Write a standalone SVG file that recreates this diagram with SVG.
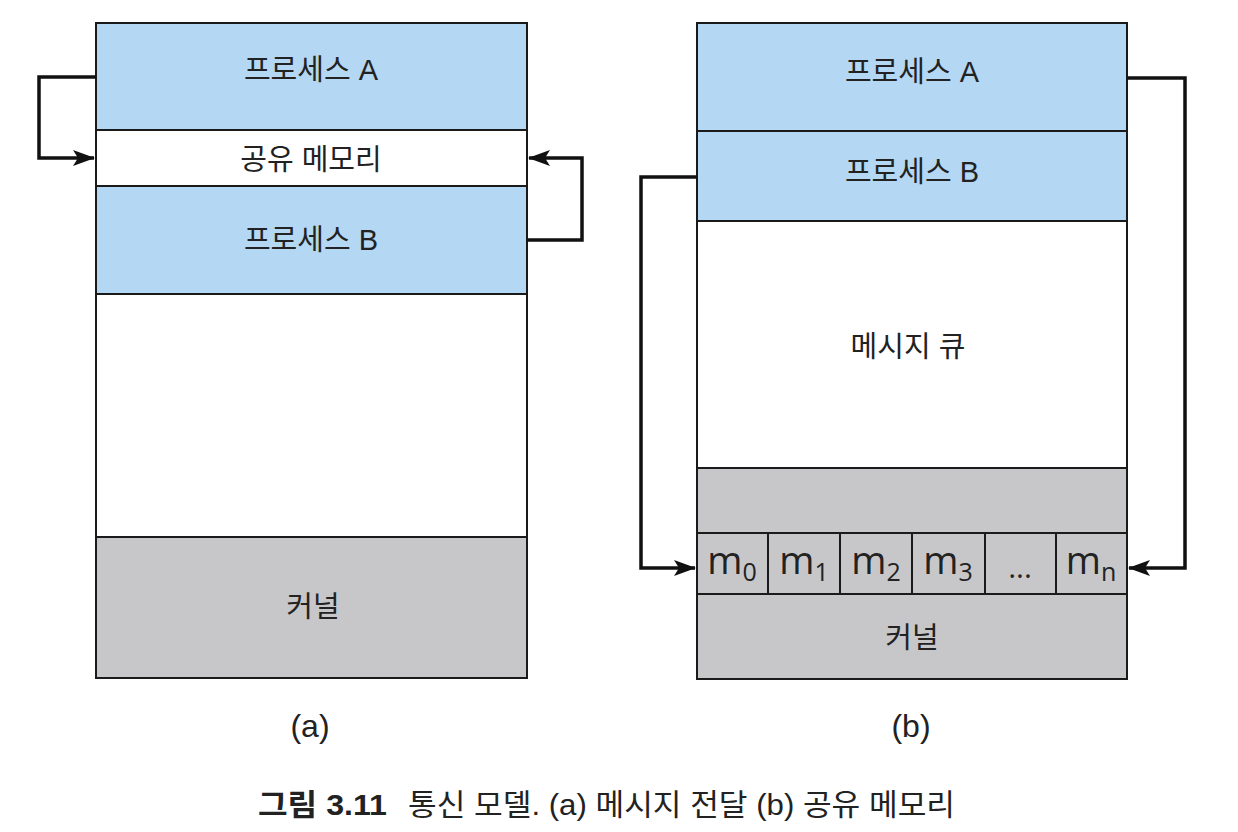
<svg xmlns="http://www.w3.org/2000/svg" width="1238" height="832" viewBox="0 0 1238 832">
<style>
.blue{fill:#b4d8f3;stroke:#1a1a1a;stroke-width:2}
.white{fill:#ffffff;stroke:#1a1a1a;stroke-width:2}
.gray{fill:#c7c7ca;stroke:#1a1a1a;stroke-width:2}
.lbl{font-family:"Liberation Sans","Noto Sans CJK KR",sans-serif;font-size:29px;fill:#222;text-anchor:middle}
.msg{font-family:"Open Sans","Noto Sans",sans-serif;font-size:38px;fill:#222;text-anchor:middle}
.sub{font-size:25px}
.cap{font-family:"Liberation Sans","Noto Sans CJK KR",sans-serif;font-size:32px;fill:#222;text-anchor:middle}
.fig{font-family:"Liberation Sans","Noto Sans CJK KR",sans-serif;font-size:30px;fill:#222}
.conn{fill:none;stroke:#111;stroke-width:3.5;stroke-linejoin:miter}
</style>
<defs>
<marker id="arr" viewBox="0 0 22 16" refX="21" refY="8" markerWidth="22" markerHeight="16" markerUnits="userSpaceOnUse" orient="auto">
<path d="M0,0 L22,8 L0,16 L5,8 Z" fill="#111"/>
</marker>
</defs>
<rect width="1238" height="832" fill="#ffffff"/>

<g id="a-procA"><rect class="blue" x="96" y="23" width="431" height="107"/><text class="lbl" x="311" y="80">프로세스 A</text></g>
<g id="a-shm"><rect class="white" x="96" y="130" width="431" height="56"/><text class="lbl" x="311" y="170">공유 메모리</text></g>
<g id="a-procB"><rect class="blue" x="96" y="186" width="431" height="108"/><text class="lbl" x="311" y="250">프로세스 B</text></g>
<g id="a-free"><rect class="white" x="96" y="294" width="431" height="243"/></g>
<g id="a-kernel"><rect class="gray" x="96" y="537" width="431" height="141"/><text class="lbl" x="313" y="617">커널</text></g>

<g id="b-procA"><rect class="blue" x="697" y="23" width="430" height="108"/><text class="lbl" x="912" y="82">프로세스 A</text></g>
<g id="b-procB"><rect class="blue" x="697" y="131" width="430" height="90"/><text class="lbl" x="912" y="182">프로세스 B</text></g>
<g id="b-mq"><rect class="white" x="697" y="221" width="430" height="247"/><text class="lbl" x="908" y="357">메시지 큐</text></g>
<g id="b-kgray"><rect class="gray" x="697" y="468" width="430" height="65"/></g>
<g id="b-cells">
<rect class="gray" x="697" y="533" width="71" height="61"/>
<rect class="gray" x="768" y="533" width="72" height="61"/>
<rect class="gray" x="840" y="533" width="72" height="61"/>
<rect class="gray" x="912" y="533" width="73" height="61"/>
<rect class="gray" x="985" y="533" width="71" height="61"/>
<rect class="gray" x="1056" y="533" width="71" height="61"/>
<text class="msg" x="732" y="574">m<tspan class="sub" dy="7">0</tspan></text>
<text class="msg" x="804" y="574">m<tspan class="sub" dy="7">1</tspan></text>
<text class="msg" x="876" y="574">m<tspan class="sub" dy="7">2</tspan></text>
<text class="msg" x="948" y="574">m<tspan class="sub" dy="7">3</tspan></text>
<text class="msg" x="1020" y="578" style="font-size:30px">...</text>
<text class="msg" x="1091" y="574">m<tspan class="sub" dy="7">n</tspan></text>
</g>
<g id="b-kernel"><rect class="gray" x="697" y="594" width="430" height="85"/><text class="lbl" x="912" y="648">커널</text></g>

<g id="connectors">
<path class="conn" d="M96,77 H39 V158 H94" marker-end="url(#arr)"/>
<path class="conn" d="M527,240 H582 V158 H529" marker-end="url(#arr)"/>
<path class="conn" d="M1127,78 H1185 V568 H1129" marker-end="url(#arr)"/>
<path class="conn" d="M697,177 H641 V568 H695" marker-end="url(#arr)"/>
</g>

<g id="labels">
<text class="cap" x="310" y="737">(a)</text>
<text class="cap" x="911" y="737">(b)</text>
<text class="fig" x="258" y="815" style="font-weight:bold" textLength="129" lengthAdjust="spacingAndGlyphs">그림 3.11</text>
<text class="fig" x="408" y="815" textLength="547" lengthAdjust="spacingAndGlyphs">통신 모델. (a) 메시지 전달 (b) 공유 메모리</text>
</g>
</svg>
